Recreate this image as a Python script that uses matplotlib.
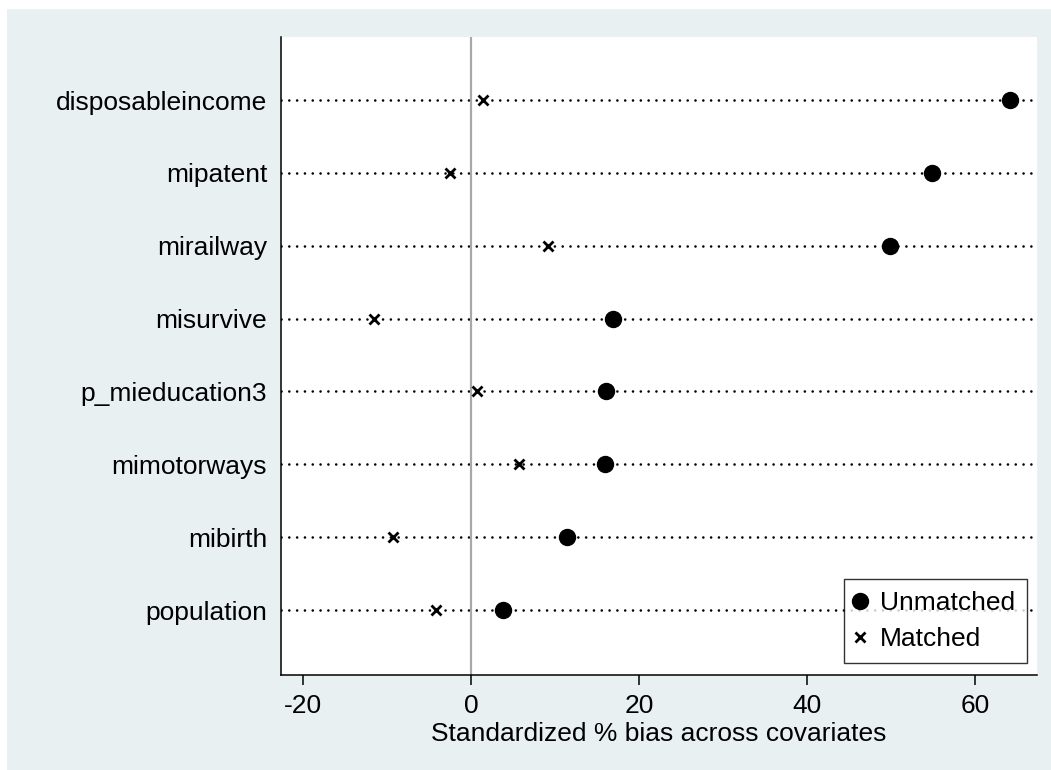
import matplotlib.pyplot as plt
from matplotlib.patches import Rectangle

plt.rcParams['font.family'] = ['Liberation Sans', 'DejaVu Sans']
plt.rcParams['axes.unicode_minus'] = False

# ==== DATA ====
covariates = ['disposableincome', 'mipatent', 'mirailway', 'misurvive',
              'p_mieducation3', 'mimotorways', 'mibirth', 'population']
unmatched = [64.2, 54.9, 49.9, 16.9, 16.1, 16.0, 11.4, 3.8]
matched = [1.5, -2.5, 9.2, -11.5, 0.7, 5.7, -9.3, -4.2]
xticks = [-20, 0, 20, 40, 60]
# ==============

W, H = 1051, 770
fig = plt.figure(figsize=(W / 100, H / 100), dpi=100)
# light outer panel (white strip on top and left like the original export)
fig.add_artist(Rectangle((7 / W, 0), 1 - 7 / W, 1 - 9 / H, transform=fig.transFigure,
                         facecolor='#e8f0f2', edgecolor='none', zorder=-10))

ax = fig.add_axes([281 / W, 1 - 675 / H, (1037 - 281) / W, (675 - 37) / H])
ax.set_facecolor('white')

n = len(covariates)
ypos = list(range(n, 0, -1))

for y in ypos:
    ax.axhline(y, color='black', lw=1.9, linestyle=(0, (0.01, 2.95)),
               dash_capstyle='round', zorder=1)
ax.axvline(0, color='#a8a8a8', lw=1.6, zorder=1)

ax.plot(unmatched, ypos, 'o', color='black', ms=11.5, ls='none',
        label='Unmatched', zorder=3)
ax.plot(matched, ypos, 'x', color='black', ms=6.5, mew=2, ls='none',
        label='Matched', zorder=3)

ax.set_xlim(-22.6, 67.4)
ax.set_ylim(0.108, n + 0.865)
ax.set_yticks(ypos)
ax.set_yticklabels(covariates)
ax.set_xticks(xticks)

for s in ['top', 'right']:
    ax.spines[s].set_visible(False)
for s in ['left', 'bottom']:
    ax.spines[s].set_linewidth(1.1)

fs = 19
ax.tick_params(axis='x', length=7.5, width=1.1, labelsize=fs, pad=6)
ax.tick_params(axis='y', length=0, labelsize=fs, pad=10)
ax.set_xlabel('Standardized % bias across covariates', fontsize=fs, labelpad=3)

leg = ax.legend(loc='lower right', bbox_to_anchor=(1 - 10 / 756, 12 / 638),
                fontsize=fs, frameon=True, fancybox=False, borderpad=0.45,
                handletextpad=0.6, labelspacing=0.45, handlelength=0.3,
                borderaxespad=0)
leg.get_frame().set_edgecolor('black')
leg.get_frame().set_linewidth(1.0)

fig.savefig('out.png', dpi=100)
